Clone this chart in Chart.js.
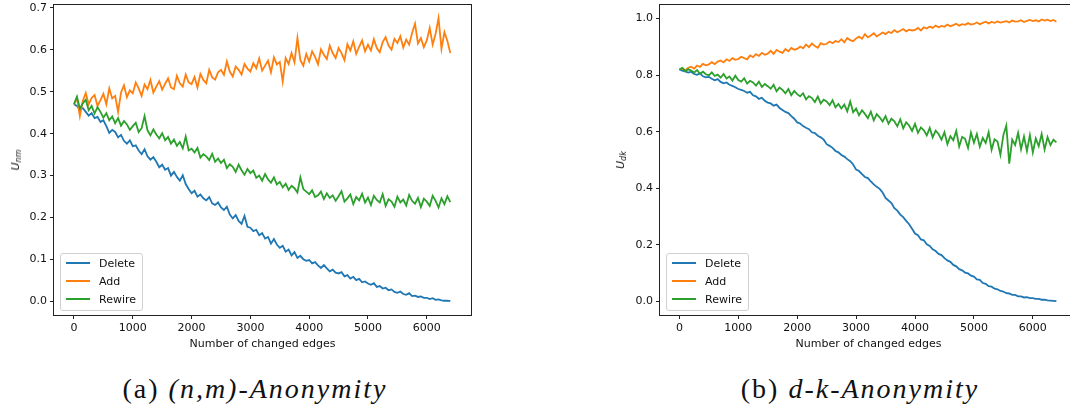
<!DOCTYPE html>
<html>
<head>
<meta charset="utf-8">
<script src="https://cdn.jsdelivr.net/npm/chart.js@4.4.1/dist/chart.umd.min.js"></script>
<style>
  html, body { margin: 0; padding: 0; background: #fff; overflow: hidden; }
  #wrap { position: relative; width: 1070px; height: 410px; overflow: hidden; background: #fff; }
  canvas { position: absolute; top: 0; }
  .ytitle { position: absolute; font-family: "DejaVu Sans", sans-serif; font-size: 11px; font-style: italic;
            color: #111; white-space: nowrap; transform: translate(-50%, -50%) rotate(-90deg); }
  .ytitle sub { font-size: 8px; vertical-align: -2px; }
  .legend { position: absolute; border: 1px solid #d0d0d0; border-radius: 3px; background: rgba(255,255,255,0.8);
            font-family: "DejaVu Sans", sans-serif; font-size: 11px; color: #111; padding: 1px 6px 1px 5px; }
  .legend div { height: 18px; line-height: 18px; white-space: nowrap; }
  .legend span { display: inline-block; width: 24px; height: 2px; vertical-align: middle; margin-right: 9px; position: relative; top: -1px; }
  .caption { position: absolute; top: 374px; font-family: "Liberation Serif", serif; font-size: 28px; color: #111;
             letter-spacing: 2px; text-align: center; white-space: nowrap; line-height: 30px; }
</style>
</head>
<body>
<div id="wrap">
  <canvas id="chartNM" width="480" height="360" style="left:0"></canvas>
  <canvas id="chartDK" width="490" height="360" style="left:600px"></canvas>
  <div class="ytitle" style="left:16px;top:160px">U<sub>nm</sub></div>
  <div class="ytitle" style="left:621px;top:160px">U<sub>dk</sub></div>
  <div class="caption" style="left:55px;width:400px">(a) <i>(n,m)-Anonymity</i></div>
  <div class="caption" style="left:660px;width:400px">(b) <i>d-k-Anonymity</i></div>
</div>
<script>
// Number of changed edges (x values)
const edges = [
  0, 50, 100, 150, 200, 250, 300, 350, 400, 450,
  500, 550, 600, 650, 700, 750, 800, 850, 900, 950,
  1000, 1050, 1100, 1150, 1200, 1250, 1300, 1350, 1400, 1450,
  1500, 1550, 1600, 1650, 1700, 1750, 1800, 1850, 1900, 1950,
  2000, 2050, 2100, 2150, 2200, 2250, 2300, 2350, 2400, 2450,
  2500, 2550, 2600, 2650, 2700, 2750, 2800, 2850, 2900, 2950,
  3000, 3050, 3100, 3150, 3200, 3250, 3300, 3350, 3400, 3450,
  3500, 3550, 3600, 3650, 3700, 3750, 3800, 3850, 3900, 3950,
  4000, 4050, 4100, 4150, 4200, 4250, 4300, 4350, 4400, 4450,
  4500, 4550, 4600, 4650, 4700, 4750, 4800, 4850, 4900, 4950,
  5000, 5050, 5100, 5150, 5200, 5250, 5300, 5350, 5400, 5450,
  5500, 5550, 5600, 5650, 5700, 5750, 5800, 5850, 5900, 5950,
  6000, 6050, 6100, 6150, 6200, 6250, 6300, 6350, 6400
];

// (a) (n,m)-Anonymity
const deleteNM = [
  0.470, 0.466, 0.458, 0.461, 0.452, 0.443, 0.449, 0.437, 0.440, 0.428,
  0.432, 0.418, 0.402, 0.409, 0.404, 0.391, 0.397, 0.383, 0.376, 0.384,
  0.370, 0.372, 0.360, 0.351, 0.363, 0.346, 0.338, 0.344, 0.333, 0.320,
  0.326, 0.314, 0.318, 0.300, 0.309, 0.297, 0.288, 0.301, 0.280, 0.268,
  0.258, 0.264, 0.250, 0.255, 0.246, 0.241, 0.249, 0.234, 0.230, 0.236,
  0.224, 0.218, 0.226, 0.207, 0.198, 0.206, 0.192, 0.185, 0.204, 0.178,
  0.176, 0.168, 0.171, 0.158, 0.163, 0.150, 0.154, 0.138, 0.149, 0.136,
  0.128, 0.133, 0.119, 0.124, 0.110, 0.118, 0.104, 0.109, 0.101, 0.097,
  0.099, 0.091, 0.094, 0.086, 0.080, 0.087, 0.079, 0.072, 0.076, 0.069,
  0.067, 0.070, 0.060, 0.063, 0.055, 0.059, 0.051, 0.054, 0.046, 0.048,
  0.043, 0.040, 0.044, 0.035, 0.037, 0.031, 0.033, 0.027, 0.029, 0.023,
  0.021, 0.024, 0.018, 0.016, 0.020, 0.013, 0.014, 0.011, 0.012, 0.009,
  0.009, 0.006, 0.008, 0.004, 0.005, 0.003, 0.002, 0.002, 0.001
];
const addNM = [
  0.470, 0.485, 0.442, 0.478, 0.497, 0.470, 0.485, 0.492, 0.466, 0.480,
  0.495, 0.470, 0.508, 0.484, 0.490, 0.452, 0.498, 0.515, 0.487, 0.503,
  0.496, 0.522, 0.508, 0.490, 0.517, 0.506, 0.528, 0.498, 0.512, 0.525,
  0.505, 0.519, 0.532, 0.510, 0.506, 0.538, 0.520, 0.512, 0.541, 0.522,
  0.518, 0.535, 0.510, 0.542, 0.528, 0.520, 0.552, 0.534, 0.529, 0.546,
  0.552, 0.540, 0.572, 0.548, 0.536, 0.560, 0.552, 0.541, 0.566, 0.555,
  0.548, 0.568, 0.556, 0.579, 0.550, 0.562, 0.574, 0.546, 0.582, 0.565,
  0.571, 0.524, 0.580, 0.566, 0.592, 0.570, 0.628, 0.575, 0.562, 0.590,
  0.572, 0.596, 0.583, 0.565, 0.601, 0.588, 0.578, 0.610, 0.592, 0.580,
  0.604, 0.592, 0.575, 0.613, 0.598, 0.620, 0.590, 0.607, 0.622, 0.596,
  0.612, 0.598, 0.625, 0.604, 0.594, 0.618, 0.630, 0.610, 0.600, 0.626,
  0.616, 0.632, 0.605, 0.624, 0.612, 0.640, 0.662, 0.615, 0.628, 0.606,
  0.622, 0.652, 0.612, 0.638, 0.675, 0.602, 0.642, 0.621, 0.592
];
const rewireNM = [
  0.470, 0.488, 0.460, 0.472, 0.481, 0.456, 0.466, 0.448, 0.463, 0.452,
  0.438, 0.449, 0.432, 0.441, 0.425, 0.437, 0.419, 0.430, 0.422, 0.409,
  0.418, 0.426, 0.404, 0.413, 0.442, 0.408, 0.396, 0.410, 0.398, 0.389,
  0.401, 0.384, 0.392, 0.376, 0.386, 0.371, 0.380, 0.365, 0.393, 0.360,
  0.364, 0.355, 0.366, 0.343, 0.351, 0.346, 0.337, 0.352, 0.333, 0.341,
  0.330, 0.338, 0.318, 0.327, 0.321, 0.309, 0.326, 0.313, 0.302, 0.316,
  0.306, 0.312, 0.295, 0.300, 0.288, 0.304, 0.291, 0.283, 0.296, 0.279,
  0.285, 0.272, 0.281, 0.266, 0.276, 0.270, 0.260, 0.296, 0.268, 0.262,
  0.256, 0.265, 0.249, 0.253, 0.262, 0.244, 0.258, 0.247, 0.253, 0.240,
  0.251, 0.263, 0.238, 0.246, 0.255, 0.232, 0.249, 0.241, 0.257, 0.236,
  0.248, 0.230, 0.252, 0.242, 0.236, 0.256, 0.228, 0.244, 0.238, 0.226,
  0.250, 0.236, 0.243, 0.229, 0.254, 0.240, 0.233, 0.247, 0.225, 0.245,
  0.238, 0.228, 0.252, 0.240, 0.224, 0.246, 0.232, 0.251, 0.237
];

// (b) d-k-Anonymity
const deleteDK = [
  0.820, 0.816, 0.813, 0.809, 0.812, 0.804, 0.801, 0.806, 0.796, 0.792,
  0.794, 0.787, 0.782, 0.786, 0.776, 0.771, 0.774, 0.766, 0.762, 0.757,
  0.751, 0.748, 0.744, 0.738, 0.741, 0.729, 0.725, 0.716, 0.720, 0.709,
  0.703, 0.700, 0.692, 0.696, 0.684, 0.677, 0.670, 0.666, 0.655, 0.646,
  0.633, 0.629, 0.620, 0.614, 0.609, 0.598, 0.595, 0.586, 0.580, 0.572,
  0.556, 0.550, 0.543, 0.532, 0.527, 0.518, 0.512, 0.503, 0.496, 0.484,
  0.466, 0.461, 0.450, 0.440, 0.436, 0.424, 0.414, 0.405, 0.398, 0.385,
  0.366, 0.357, 0.348, 0.330, 0.321, 0.307, 0.298, 0.285, 0.273, 0.257,
  0.240, 0.234, 0.219, 0.216, 0.202, 0.196, 0.184, 0.178, 0.168, 0.164,
  0.153, 0.145, 0.140, 0.129, 0.124, 0.114, 0.110, 0.102, 0.099, 0.091,
  0.088, 0.078, 0.076, 0.065, 0.062, 0.054, 0.052, 0.045, 0.043, 0.037,
  0.035, 0.029, 0.028, 0.023, 0.023, 0.018, 0.018, 0.014, 0.015, 0.012,
  0.012, 0.009, 0.009, 0.006, 0.006, 0.004, 0.003, 0.002, 0.001
];
const addDK = [
  0.820, 0.824, 0.817, 0.826, 0.830, 0.823, 0.834, 0.829, 0.840, 0.835,
  0.838, 0.846, 0.839, 0.848, 0.852, 0.845, 0.856, 0.850, 0.860, 0.854,
  0.857, 0.865, 0.860, 0.856, 0.870, 0.864, 0.874, 0.868, 0.879, 0.872,
  0.876, 0.886, 0.875, 0.889, 0.883, 0.879, 0.892, 0.884, 0.896, 0.890,
  0.893, 0.901, 0.895, 0.908, 0.899, 0.912, 0.903, 0.897, 0.913, 0.908,
  0.911, 0.919, 0.913, 0.921, 0.917, 0.927, 0.916, 0.931, 0.924, 0.920,
  0.930, 0.936, 0.929, 0.945, 0.934, 0.940, 0.948, 0.937, 0.944, 0.951,
  0.945, 0.953, 0.949, 0.959, 0.952, 0.957, 0.963, 0.955, 0.961, 0.958,
  0.960, 0.967, 0.958, 0.969, 0.965, 0.972, 0.967, 0.975, 0.969, 0.974,
  0.971, 0.979, 0.973, 0.977, 0.982, 0.975, 0.980, 0.978, 0.984, 0.979,
  0.981, 0.986, 0.980, 0.985, 0.989, 0.983, 0.988, 0.985, 0.990, 0.986,
  0.988, 0.991, 0.986, 0.993, 0.989, 0.990, 0.994, 0.988, 0.992, 0.995,
  0.991, 0.994, 0.990, 0.997, 0.993, 0.996, 0.991, 0.995, 0.989
];
const rewireDK = [
  0.820, 0.826, 0.814, 0.821, 0.816, 0.809, 0.818, 0.805, 0.812, 0.803,
  0.799, 0.810, 0.797, 0.802, 0.791, 0.804, 0.788, 0.795, 0.781, 0.798,
  0.783, 0.777, 0.789, 0.770, 0.780, 0.774, 0.763, 0.777, 0.758, 0.769,
  0.761, 0.752, 0.766, 0.743, 0.756, 0.748, 0.736, 0.751, 0.729, 0.744,
  0.733, 0.725, 0.736, 0.714, 0.726, 0.719, 0.705, 0.724, 0.700, 0.713,
  0.707, 0.694, 0.711, 0.686, 0.698, 0.682, 0.696, 0.672, 0.707, 0.669,
  0.682, 0.658, 0.676, 0.663, 0.648, 0.671, 0.640, 0.662, 0.651, 0.636,
  0.655, 0.628, 0.646, 0.637, 0.619, 0.644, 0.612, 0.633, 0.622, 0.603,
  0.628, 0.596, 0.615, 0.605, 0.587, 0.613, 0.580, 0.604, 0.592, 0.572,
  0.598, 0.556, 0.584, 0.570, 0.603, 0.548, 0.582, 0.575, 0.543, 0.597,
  0.561, 0.592, 0.547, 0.578, 0.560, 0.598, 0.536, 0.573, 0.565, 0.518,
  0.588, 0.622, 0.487, 0.572, 0.553, 0.596, 0.538, 0.583, 0.532, 0.588,
  0.527, 0.576, 0.549, 0.592, 0.537, 0.581, 0.553, 0.572, 0.562
];

const seriesNames = ['Delete', 'Add', 'Rewire'];
const seriesColors = ['#1f77b4', '#ff7f0e', '#2ca02c'];
const xTicks = [0, 1000, 2000, 3000, 4000, 5000, 6000];
const yTicksNM = [0, 0.1, 0.2, 0.3, 0.4, 0.5, 0.6, 0.7];
const yTicksDK = [0, 0.2, 0.4, 0.6, 0.8, 1.0];

const tickFont = { family: 'DejaVu Sans', size: 11 };

// full frame around the plot area, like matplotlib spines
const framePlugin = {
    id: 'frame',
    afterDatasetsDraw(chart) {
        const a = chart.chartArea;
        const ctx = chart.ctx;
        ctx.save();
        ctx.strokeStyle = '#222';
        ctx.lineWidth = 1;
        ctx.strokeRect(Math.round(a.left) - 0.5, Math.round(a.top) - 0.5,
            Math.round(a.right) - Math.round(a.left) + 1, Math.round(a.bottom) - Math.round(a.top) + 1);
        ctx.restore();
    }
};

function makeChart(canvasId, series, yTicks, yRange, xRange, yWidth, padRight, legendLeft) {
    const ctx = document.getElementById(canvasId).getContext('2d');
    const datasets = series.map((vals, i) => ({
        label: seriesNames[i],
        data: vals.map((v, j) => ({ x: edges[j], y: v })),
        borderColor: seriesColors[i],
        backgroundColor: seriesColors[i],
        borderWidth: 1.8,
        pointRadius: 0,
        tension: 0,
        order: 3 - i
    }));
    const chart = new Chart(ctx, {
        type: 'line',
        data: { datasets: datasets },
        options: {
            responsive: false,
            animation: false,
            layout: { padding: { left: 0, right: padRight, top: 5, bottom: 0 } },
            plugins: { legend: { display: false }, tooltip: { enabled: false } },
            scales: {
                x: {
                    type: 'linear',
                    min: xRange[0],
                    max: xRange[1],
                    afterBuildTicks: s => { s.ticks = xTicks.map(v => ({ value: v })); },
                    afterFit: s => { s.height = 45; s.paddingLeft = 0; s.paddingRight = 0; },
                    grid: { display: true, drawOnChartArea: false, drawTicks: true, tickLength: 4, color: '#222' },
                    border: { display: false },
                    ticks: { font: tickFont, color: '#111', padding: 3, maxRotation: 0, callback: v => String(v) },
                    title: { display: true, text: 'Number of changed edges', font: tickFont, color: '#111',
                             padding: { top: 0, bottom: 9 } }
                },
                y: {
                    type: 'linear',
                    min: yRange[0],
                    max: yRange[1],
                    afterBuildTicks: s => { s.ticks = yTicks.map(v => ({ value: v })); },
                    afterFit: s => { s.width = yWidth; s.paddingTop = 0; s.paddingBottom = 0; },
                    grid: { display: true, drawOnChartArea: false, drawTicks: true, tickLength: 4, color: '#222' },
                    border: { display: false },
                    ticks: { font: tickFont, color: '#111', padding: 3, callback: v => v.toFixed(1) }
                }
            }
        },
        plugins: [framePlugin]
    });

    // legend box in the lower left corner of the plot area
    const a = chart.chartArea;
    const leg = document.createElement('div');
    leg.className = 'legend';
    seriesNames.forEach((name, i) => {
        const row = document.createElement('div');
        row.innerHTML = '<span style="background:' + seriesColors[i] + '"></span>' + name;
        leg.appendChild(row);
    });
    leg.style.left = (legendLeft + a.left + 6) + 'px';
    leg.style.top = (a.bottom - 62) + 'px';
    document.getElementById('wrap').appendChild(leg);
    return chart;
}

makeChart('chartNM', [deleteNM, addNM, rewireNM], yTicksNM, [-0.032, 0.7065], [-340, 6752], 54, 9, 0);
makeChart('chartDK', [deleteDK, addDK, rewireDK], yTicksDK, [-0.048, 1.048], [-329, 6750], 60, 13, 600);
</script>
</body>
</html>
